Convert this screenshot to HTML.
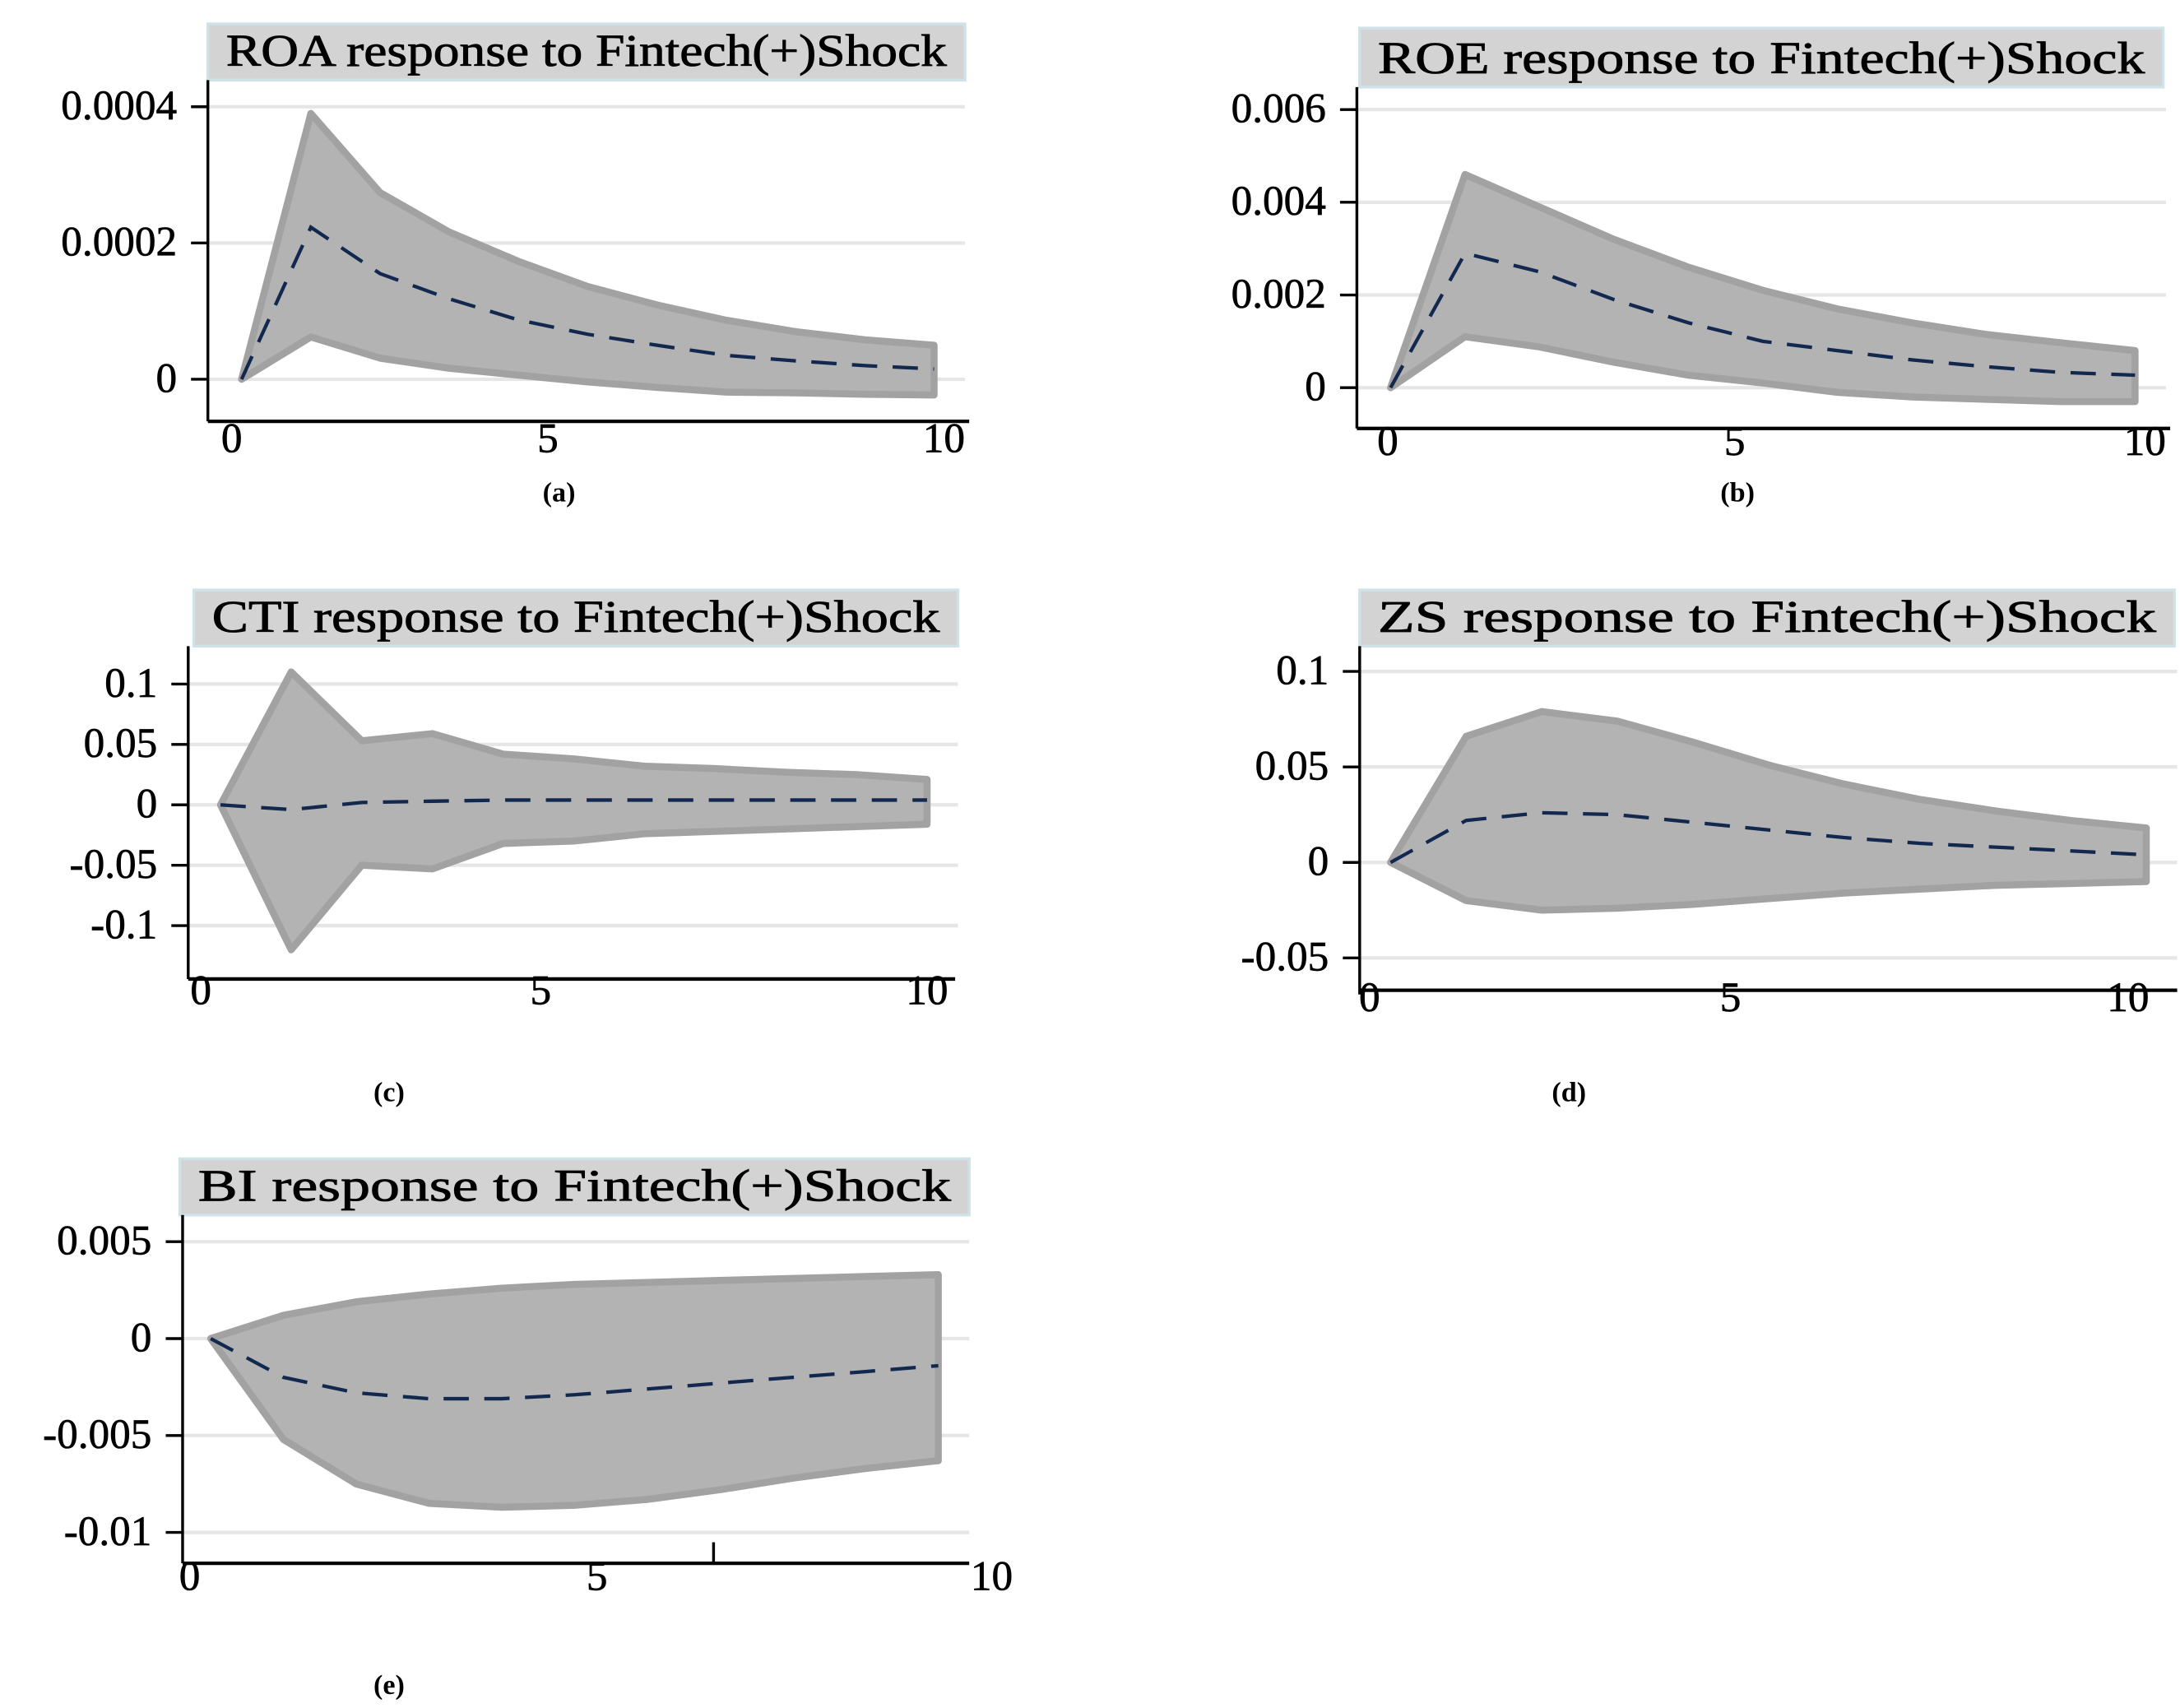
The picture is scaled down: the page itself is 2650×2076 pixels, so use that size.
<!DOCTYPE html>
<html><head><meta charset="utf-8">
<style>
html,body{margin:0;padding:0;background:#fff;}
svg{display:block;}
text{font-family:"Liberation Serif",serif;fill:#000;}
</style></head>
<body>
<svg id="fig" width="2650" height="2076" viewBox="0 0 1552 1216" preserveAspectRatio="none" xmlns="http://www.w3.org/2000/svg"></svg>
<script>
const steps = [0,1,2,3,4,5,6,7,8,9,10];
// (a) ROA
const roaUpper = [0,0.00039,0.000274,0.000216,0.000173,0.000136,0.000109,0.0000866,0.00007,0.000058,0.00005];
const roaLower = [0,0.000062,0.000031,0.000016,0.000006,-0.000004,-0.000012,-0.000019,-0.00002,-0.000022,-0.000023];
const roaMid = [0,0.000223,0.000155,0.000118,0.000087,0.000066,0.00005,0.000035,0.000027,0.00002,0.000015];
const roaTicks = [0.0004,0.0002,0];
const roaTickLabels = ["0.0004","0.0002","0"];
// (b) ROE
const roeUpper = [0,0.0046,0.0039,0.0032,0.0026,0.0021,0.0017,0.0014,0.00115,0.00097,0.0008];
const roeLower = [0,0.0011,0.00088,0.00055,0.00027,0.0001,-0.0001,-0.0002,-0.00025,-0.0003,-0.0003];
const roeMid = [0,0.0029,0.0025,0.0019,0.0014,0.001,0.0008,0.0006,0.00045,0.00033,0.00027];
const roeTicks = [0.006,0.004,0.002,0];
const roeTickLabels = ["0.006","0.004","0.002","0"];
// (c) CTI
const ctiUpper = [0,0.11,0.053,0.059,0.042,0.038,0.032,0.03,0.027,0.025,0.021];
const ctiLower = [0,-0.12,-0.05,-0.053,-0.032,-0.03,-0.024,-0.022,-0.02,-0.018,-0.016];
const ctiMid = [0,-0.004,0.002,0.003,0.004,0.004,0.004,0.004,0.004,0.004,0.004];
const ctiTicks = [0.1,0.05,0,-0.05,-0.1];
const ctiTickLabels = ["0.1","0.05","0","-0.05","-0.1"];
// (d) ZS
const zsUpper = [0,0.066,0.079,0.074,0.063,0.051,0.041,0.033,0.027,0.022,0.018];
const zsLower = [0,-0.02,-0.025,-0.024,-0.022,-0.019,-0.016,-0.014,-0.012,-0.011,-0.01];
const zsMid = [0,0.022,0.026,0.025,0.021,0.017,0.013,0.01,0.008,0.006,0.004];
const zsTicks = [0.1,0.05,0,-0.05];
const zsTickLabels = ["0.1","0.05","0","-0.05"];
// (e) BI
const biUpper = [0,0.0012,0.0019,0.0023,0.0026,0.0028,0.0029,0.003,0.0031,0.0032,0.0033];
const biLower = [0,-0.0052,-0.0075,-0.0085,-0.0087,-0.0086,-0.0083,-0.0078,-0.0072,-0.0067,-0.0063];
const biMid = [0,-0.002,-0.0028,-0.0031,-0.0031,-0.0029,-0.0026,-0.0023,-0.002,-0.0017,-0.0014];
const biTicks = [0.005,0,-0.005,-0.01];
const biTickLabels = ["0.005","0","-0.005","-0.01"];
const xTickLabels = ["0","5","10"];

const NS = "http://www.w3.org/2000/svg";
const svg = document.getElementById('fig');
function mk(tag, attrs, parent){const e=document.createElementNS(NS,tag);for(const k in attrs)e.setAttribute(k,attrs[k]);(parent||svg).appendChild(e);return e;}

const panels = [
 {id:'roa',title:'ROA response to Fintech(+)Shock',cap:'(a)',box:[148,17,687,57],axX:148,axTop:57,axBot:300,xAxisY:300,xAxisR:690,gridR:687,
  v0:0,y0:270,v1:0.0002,y1:173,x0:172,x10:665,ticks:roaTicks,labels:roaTickLabels,up:roaUpper,lo:roaLower,mid:roaMid,
  xl:[165,390,672],xly:322,capPos:[398,357]},
 {id:'roe',title:'ROE response to Fintech(+)Shock',cap:'(b)',box:[968,20,1540,62],axX:966,axTop:62,axBot:305,xAxisY:305,xAxisR:1545,gridR:1542,
  v0:0,y0:276,v1:0.002,y1:210,x0:990,x10:1520,ticks:roeTicks,labels:roeTickLabels,up:roeUpper,lo:roeLower,mid:roeMid,
  xl:[988,1235,1527],xly:324,capPos:[1237,357]},
 {id:'cti',title:'CTI response to Fintech(+)Shock',cap:'(c)',box:[138,420,682,460],axX:134,axTop:460,axBot:697,xAxisY:697,xAxisR:680,gridR:682,
  v0:0,y0:573,v1:0.05,y1:530,x0:157,x10:660,ticks:ctiTicks,labels:ctiTickLabels,up:ctiUpper,lo:ctiLower,mid:ctiMid,
  xl:[143,385,660],xly:715,capPos:[277,784]},
 {id:'zs',title:'ZS response to Fintech(+)Shock',cap:'(d)',box:[968,420,1548,460],axX:968,axTop:460,axBot:708,xAxisY:705,xAxisR:1550,gridR:1550,
  v0:0,y0:614,v1:0.05,y1:546,x0:990,x10:1528,ticks:zsTicks,labels:zsTickLabels,up:zsUpper,lo:zsLower,mid:zsMid,
  xl:[975,1232,1515],xly:720,capPos:[1117,784]},
 {id:'bi',title:'BI response to Fintech(+)Shock',cap:'(e)',box:[128,825,690,865],axX:130,axTop:865,axBot:1113,xAxisY:1113,xAxisR:690,gridR:690,
  v0:0,y0:953,v1:-0.005,y1:1022,x0:150,x10:668,ticks:biTicks,labels:biTickLabels,up:biUpper,lo:biLower,mid:biMid,
  xl:[135,425,706],xly:1132,capPos:[277,1206]}
];

panels.forEach(p=>{
  const g = mk('g',{});
  
  
  const ys = v => p.y0 + (v-p.v0)*(p.y1-p.y0)/(p.v1-p.v0);
  const xs = s => p.x0 + s*(p.x10-p.x0)/10;
  const bw = p.box[2]-p.box[0];
  const tb = mk('rect',{x:p.box[0],y:p.box[1],width:bw,height:p.box[3]-p.box[1],fill:'#d3d3d3',stroke:'#cfe2e8','stroke-width':2},g);
  
  
  const tt = mk('text',{x:p.box[0]+bw/2,y:p.box[3]-10,'font-size':32,'text-anchor':'middle',textLength:bw-26,lengthAdjust:'spacingAndGlyphs',stroke:'#000','stroke-width':0.5},g);
  tt.textContent = p.title;
  
  
  p.ticks.forEach((t,i)=>{
    const y = ys(t);
    const gl = mk('line',{x1:p.axX,x2:p.gridR,y1:y,y2:y,stroke:'#e6e6e6','stroke-width':2.5},g);
    
    
    mk('line',{x1:p.axX-12,x2:p.axX,y1:y,y2:y,stroke:'#000','stroke-width':2},g);
    const tl = mk('text',{x:p.axX-22,y:y+9,'font-size':30,'text-anchor':'end',stroke:'#000','stroke-width':0.4},g);
    tl.textContent = p.labels[i];
    
    
  });
  let d = steps.map((s,i)=>(i?'L':'M')+xs(s).toFixed(1)+' '+ys(p.up[i]).toFixed(1)).join(' ');
  for(let i=steps.length-1;i>=0;i--) d += ' L'+xs(steps[i]).toFixed(1)+' '+ys(p.lo[i]).toFixed(1);
  d += ' Z';
  const band = mk('path',{d:d,fill:'#b3b3b3',stroke:'#a2a2a2','stroke-width':5,'stroke-linejoin':'round'},g);
  
  
  const md = steps.map((s,i)=>(i?'L':'M')+xs(s).toFixed(1)+' '+ys(p.mid[i]).toFixed(1)).join(' ');
  const ml = mk('path',{d:md,fill:'none',stroke:'#13284f','stroke-width':2.5,'stroke-dasharray':'18 11'},g);
  
  
  const ya = mk('line',{x1:p.axX,x2:p.axX,y1:p.axTop,y2:p.axBot,stroke:'#000','stroke-width':2},g);
  
  
  const xa = mk('line',{x1:p.axX,x2:p.xAxisR,y1:p.xAxisY,y2:p.xAxisY,stroke:'#000','stroke-width':2.5},g);
  
  
  xTickLabels.forEach((l,i)=>{
    const xl = mk('text',{x:p.xl[i],y:p.xly,'font-size':30,'text-anchor':'middle',stroke:'#000','stroke-width':0.4},g);
    xl.textContent = l;
    
    
  });
  const cp = mk('text',{x:p.capPos[0],y:p.capPos[1],'font-size':20,'font-weight':'bold','text-anchor':'middle'},g);
  cp.textContent = p.cap;
  
  
});
mk('line',{x1:508,x2:508,y1:1098,y2:1113,stroke:'#000','stroke-width':2});
</script>
</body></html>
